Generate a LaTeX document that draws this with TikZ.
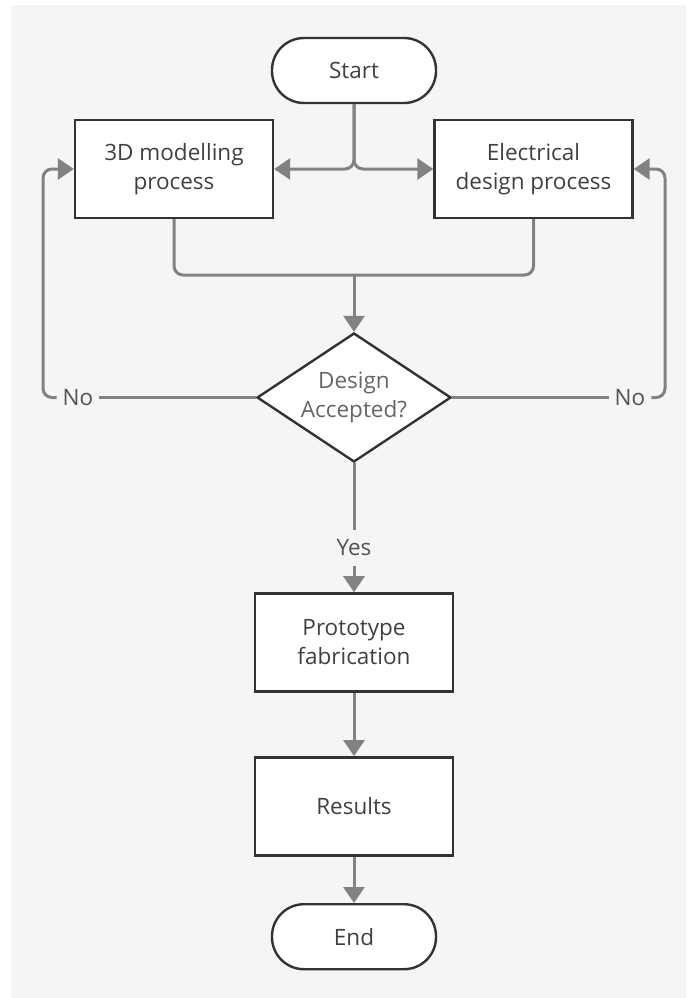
\documentclass[tikz,border=0pt]{standalone}
\usepackage{fontspec}
\setmainfont{Open Sans}
\usetikzlibrary{shapes.geometric,arrows.meta,positioning,calc}
\definecolor{cbg}{HTML}{F5F5F5}
\definecolor{cline}{HTML}{333333}
\definecolor{cconn}{HTML}{828282}
\definecolor{ctext}{HTML}{404040}

\begin{document}
\begin{tikzpicture}[x=1pt,y=1pt,font={\fontsize{22.5}{29}\selectfont},>={Triangle[length=16pt,width=21pt]}]
  \tikzstyle{term}=[draw=cline,line width=2.4pt,fill=white,rounded corners=32pt,minimum width=164pt,minimum height=65pt,text=ctext]
  \tikzstyle{proc}=[draw=cline,line width=2.4pt,fill=white,minimum width=198pt,minimum height=98pt,align=center,text=ctext]
  \tikzstyle{dec}=[draw=cline,line width=2.4pt,fill=white,diamond,aspect=1.5,inner sep=0pt,minimum width=194pt,minimum height=129pt,align=center,text=ctext!80]
  \tikzstyle{lbl}=[fill=cbg,inner sep=6pt,text=ctext!90]
  \tikzstyle{conn}=[draw=cconn,line width=3pt,rounded corners=9pt]
  \useasboundingbox (0,0) rectangle (686,-998);
  \fill[white] (0,0) rectangle (686,-998);
  \fill[cbg] (11,-5) rectangle (686,-998);
  \node[term] (st) at (354,-70.5) {Start};
  \node[proc] (mod) at (174,-169) {3D modelling\\process};
  \node[proc] (ele) at (533.5,-169) {Electrical\\design process};
  \node[dec] (acc) at (354,-397.5) {Design\\Accepted?};
  \node[proc,below=129pt of acc] (pro) {Prototype\\fabrication};
  \node[proc,below=63.5pt of pro] (res) {Results};
  \node[term,below=46.5pt of res] (en) {End};
  \coordinate (jn) at (354,-275);
  \coordinate (cl) at (43,-169);
  \coordinate (cr) at (665,-169);
  \node[lbl] (nol) at (78,-397.5) {No};
  \node[lbl] (nor) at (630,-397.5) {No};
  \node[lbl,inner ysep=10pt] (yes) at (354,-548) {Yes};
  \draw[conn,->] (st.south) |- (mod.east);
  \draw[conn,->] (st.south) |- (ele.west);
  \draw[conn] (mod.south) |- (jn);
  \draw[conn] (ele.south) |- (jn);
  \draw[conn,->] (jn) -- (acc.north);
  \draw[conn] (acc.west) -- (nol.east);
  \draw[conn,->] (nol.west) -| (cl) -- (mod.west);
  \draw[conn] (acc.east) -- (nor.west);
  \draw[conn,->] (nor.east) -| (cr) -- (ele.east);
  \draw[conn] (acc.south) -- (yes.north);
  \draw[conn,->] (yes.south) -- (pro.north);
  \draw[conn,->] (pro.south) -- (res.north);
  \draw[conn,->] (res.south) -- (en.north);
\end{tikzpicture}
\end{document}
